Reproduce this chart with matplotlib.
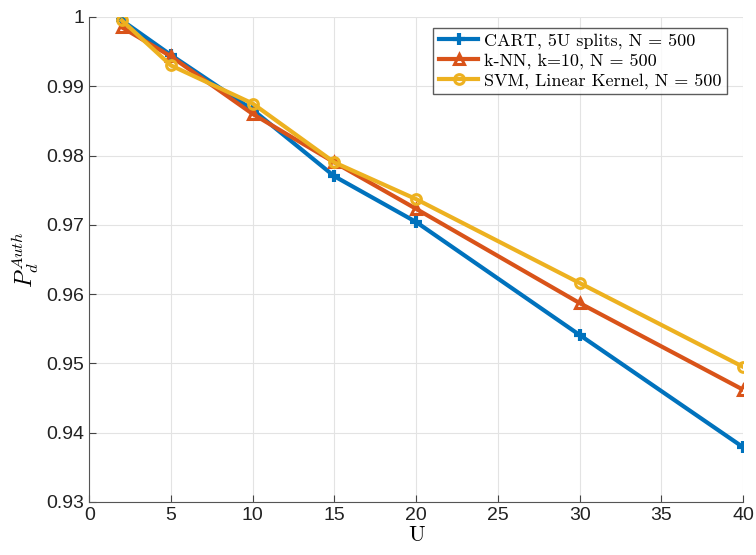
import matplotlib
matplotlib.use("Agg")
import matplotlib.pyplot as plt

U = [2, 5, 10, 15, 20, 30, 40]
cart = [0.9995, 0.9945, 0.9866, 0.9770, 0.9704, 0.9541, 0.9379]
knn = [0.9985, 0.9943, 0.9860, 0.9790, 0.9723, 0.9587, 0.9462]
svm = [0.9995, 0.9930, 0.9875, 0.9790, 0.9737, 0.9616, 0.9495]
labels = ["CART, 5U splits, N = 500",
          "k-NN, k=10, N = 500",
          "SVM, Linear Kernel, N = 500"]
colors = ["#0072BD", "#D95319", "#EDB120"]
markers = ["+", "^", "o"]

plt.rcParams["mathtext.fontset"] = "cm"
plt.rcParams["font.family"] = ["Liberation Sans", "DejaVu Sans"]

fig = plt.figure(figsize=(7.56, 5.55), dpi=100)
ax = fig.add_axes([0.118, 0.0955, 0.865, 0.874])

for y, c, m, lab in zip([cart, knn, svm], colors, markers, labels):
    ax.plot(U, y, color=c, lw=3, marker=m, markersize=9 if m == "+" else 7,
            markeredgewidth=3 if m == "+" else 2.2, markerfacecolor="none",
            label=lab)

ax.set_xlim(0, 40)
ax.set_ylim(0.93, 1.0)
ax.set_xticks(range(0, 41, 5))
ax.set_yticks([0.93, 0.94, 0.95, 0.96, 0.97, 0.98, 0.99, 1.0])
ax.set_yticklabels(["0.93", "0.94", "0.95", "0.96", "0.97", "0.98", "0.99", "1"])
ax.grid(True, color="#e3e3e3", lw=0.8)
ax.set_axisbelow(True)
for s in ["top", "right"]:
    ax.spines[s].set_visible(False)
for s in ["left", "bottom"]:
    ax.spines[s].set_color("#555555")
ax.tick_params(direction="in", labelsize=14, length=5, color="#444444",
               labelcolor="#222222")
ax.set_xlabel("U", fontsize=16, labelpad=1, family=["cmr10", "DejaVu Serif"])
ax.set_ylabel(r"$P_d^{Auth}$", fontsize=17, labelpad=4)

leg = ax.legend(loc="upper right", bbox_to_anchor=(0.975, 0.978),
                prop={"family": ["cmr10", "DejaVu Serif"], "size": 13},
                frameon=True, fancybox=False, edgecolor="#333333",
                handlelength=2.2, handletextpad=0.3, borderpad=0.3,
                labelspacing=0.2, borderaxespad=0)
leg.get_frame().set_linewidth(1.0)

fig.savefig("out.png", dpi=100)
